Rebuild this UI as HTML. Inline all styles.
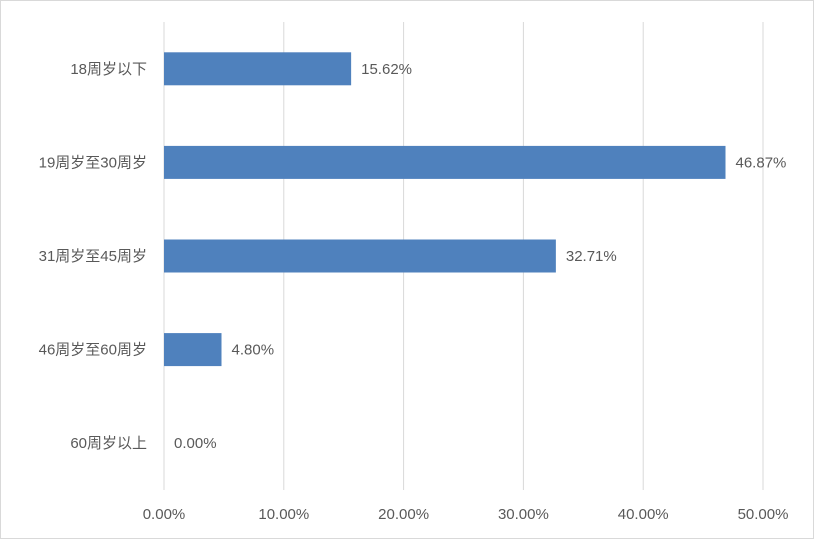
<!DOCTYPE html>
<html><head><meta charset="utf-8">
<style>
html,body{margin:0;padding:0;background:#fff;}
body{width:814px;height:539px;overflow:hidden;font-family:"Liberation Sans","Noto Sans CJK SC",sans-serif;}
svg text{font-family:"Liberation Sans","Noto Sans CJK SC",sans-serif;font-size:15px;fill:#595959;}
</style></head>
<body>
<svg id="chart" width="814" height="539" xmlns="http://www.w3.org/2000/svg">
<rect x="0.5" y="0.5" width="813" height="538" fill="#fff" stroke="#d9d9d9"/>
<g id="grid"></g><g id="bars"></g><g id="labels"></g>
</svg>
<script>
const categories=["18周岁以下","19周岁至30周岁","31周岁至45周岁","46周岁至60周岁","60周岁以上"];
const values=[15.62,46.87,32.71,4.80,0.00];
const ticks=[0,10,20,30,40,50];
const tickLabels=["0.00%","10.00%","20.00%","30.00%","40.00%","50.00%"];
const NS="http://www.w3.org/2000/svg";
const x0=164,x1=763,maxV=50,plotTop=22,plotBottom=490;
const xs=v=>x0+(x1-x0)*v/maxV;
const band=(plotBottom-plotTop)/categories.length;
const yc=i=>plotTop+band*(i+0.5);
function mk(t,a,p){const e=document.createElementNS(NS,t);for(const k in a)e.setAttribute(k,a[k]);p.appendChild(e);return e;}
const g=document.getElementById('grid'),b=document.getElementById('bars'),l=document.getElementById('labels');
ticks.forEach((t,i)=>{
 const ln=mk('line',{x1:xs(t),x2:xs(t),y1:plotTop,y2:plotBottom,stroke:'#d9d9d9','stroke-width':1},g);
 
 
 const tx=mk('text',{x:xs(t),y:519,'text-anchor':'middle'},l);
 tx.textContent=tickLabels[i];
 
 
});
categories.forEach((c,i)=>{
 const y=yc(i),h=33;
 const r=mk('rect',{x:x0,y:y-h/2,width:xs(values[i])-x0,height:h,fill:'#4f81bd'},b);
 
 
 const v=mk('text',{x:xs(values[i])+10,y:y+5},l);
 v.textContent=values[i].toFixed(2)+'%';
 
 
 const cl=mk('text',{x:147,y:y+5,'text-anchor':'end'},l);
 cl.textContent=c;
 
 
});
</script>
</body></html>
